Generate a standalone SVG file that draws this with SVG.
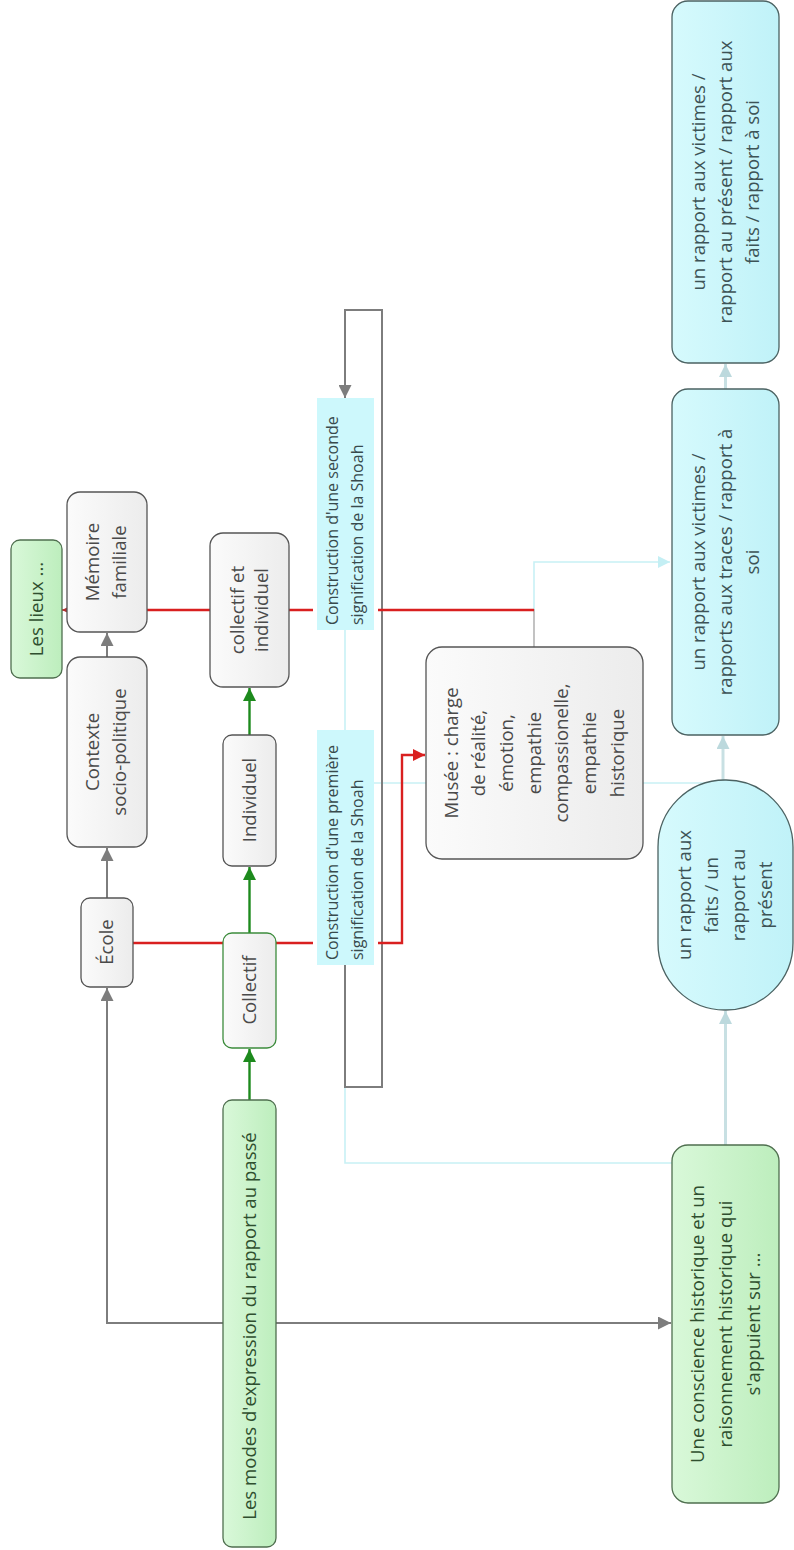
<svg xmlns="http://www.w3.org/2000/svg" width="794" height="1550" viewBox="0 0 794 1550">
<defs>
<linearGradient id="gGray" x1="0" y1="0" x2="1" y2="0"><stop offset="0" stop-color="#fbfbfb"/><stop offset="1" stop-color="#ececec"/></linearGradient>
<linearGradient id="gGreen" x1="0" y1="0" x2="1" y2="0"><stop offset="0" stop-color="#d9f8d9"/><stop offset="1" stop-color="#bdeebd"/></linearGradient>
<linearGradient id="gCyan" x1="0" y1="0" x2="1" y2="0"><stop offset="0" stop-color="#d6fafd"/><stop offset="1" stop-color="#c0f2f8"/></linearGradient>
<marker id="aGray" viewBox="0 0 10 10" refX="10" refY="5" markerUnits="userSpaceOnUse" markerWidth="13" markerHeight="13" orient="auto"><path d="M0,0 L10,5 L0,10 z" fill="#7d7d7d"/></marker>
<marker id="aGreen" viewBox="0 0 10 10" refX="10" refY="5" markerUnits="userSpaceOnUse" markerWidth="13" markerHeight="13" orient="auto"><path d="M0,0 L10,5 L0,10 z" fill="#1d8a1d"/></marker>
<marker id="aRed" viewBox="0 0 10 10" refX="10" refY="5" markerUnits="userSpaceOnUse" markerWidth="12" markerHeight="12" orient="auto"><path d="M0,0 L10,5 L0,10 z" fill="#d92020"/></marker>
<marker id="aRedS" viewBox="0 0 10 10" refX="10" refY="5" markerUnits="userSpaceOnUse" markerWidth="7" markerHeight="7" orient="auto"><path d="M0,0 L10,5 L0,10 z" fill="#b03030"/></marker>
<marker id="aLight" viewBox="0 0 10 10" refX="10" refY="5" markerUnits="userSpaceOnUse" markerWidth="13" markerHeight="13" orient="auto"><path d="M0,0 L10,5 L0,10 z" fill="#bcd9dd"/></marker>
<marker id="aCyan" viewBox="0 0 10 10" refX="10" refY="5" markerUnits="userSpaceOnUse" markerWidth="12" markerHeight="12" orient="auto"><path d="M0,0 L10,5 L0,10 z" fill="#c4eff4"/></marker>
</defs>
<style>
.gray{fill:url(#gGray);stroke:#555;stroke-width:1.3}
.green{fill:url(#gGreen);stroke:#4f6f4f;stroke-width:1.3}
.cyan{fill:url(#gCyan);stroke:#4b6262;stroke-width:1.3}
.coll{fill:url(#gGray);stroke:#3c8c3c;stroke-width:1.3}
.lbl{fill:#cdf8fc;stroke:none}
text{font-family:"Open Sans","Noto Sans","DejaVu Sans",sans-serif;font-size:18.6px;fill:#4a4a4a}
.tg{fill:#2f4f2f}
.tc{fill:#3d5356}
.tl{font-size:16px;fill:#384a4c}
.cgray{fill:none;stroke:#7d7d7d;stroke-width:2}
.cgreen{fill:none;stroke:#1d8a1d;stroke-width:2.4}
.cred{fill:none;stroke:#d92020;stroke-width:2.4}
.ccyan{fill:none;stroke:#c8f1f5;stroke-width:1.6}
.clight{fill:none;stroke:#c8e0e3;stroke-width:3}
.cthin{fill:none;stroke:#9a9a9a;stroke-width:1.2}
</style>
<rect width="794" height="1550" fill="#fff"/>
<g id="connectors">
<path class="ccyan" d="M672,1163 H345 V965"/>
<path class="ccyan" d="M345,730 V630"/>
<path class="ccyan" d="M374,783 H723"/>
<path class="ccyan" d="M534,609 V562 H670" marker-end="url(#aCyan)"/>
<path class="cthin" d="M534,647 V609"/>
<path class="cgray" d="M223,1323 H107 V988" marker-end="url(#aGray)"/>
<path class="cgray" d="M276,1323 H671" marker-end="url(#aGray)"/>
<path class="cgray" d="M107,898 V848" marker-end="url(#aGray)"/>
<path class="cgray" d="M107,657 V633" marker-end="url(#aGray)"/>
<path class="cgray" d="M345,965 V1087 H382 V310 H345 V398" marker-end="url(#aGray)"/>
<path class="cgreen" d="M249.5,1100 V1049" marker-end="url(#aGreen)"/>
<path class="cgreen" d="M249.5,933 V867" marker-end="url(#aGreen)"/>
<path class="cgreen" d="M249.5,735 V688" marker-end="url(#aGreen)"/>
<path class="cred" d="M133,943 H313"/>
<path class="cred" d="M378,943 H402 V755 H425" marker-end="url(#aRed)"/>
<path class="cred" d="M313,610 H67"/>
<path class="cred" d="M70,610 H62" marker-end="url(#aRedS)" style="stroke-width:1.5"/>
<path class="cred" d="M378,610 H534"/>
<path class="clight" d="M725.5,1145 V1011" marker-end="url(#aLight)"/>
<path class="clight" d="M723,780 V736" marker-end="url(#aLight)"/>
<path class="clight" d="M725.5,389 V364" marker-end="url(#aLight)"/>
</g>
<g id="n-lieux"><rect class="green" x="11" y="540" width="51" height="138" rx="9"/>
<text class="tg" text-anchor="middle" transform="translate(37,609) rotate(-90)"><tspan x="0" y="6">Les lieux ...</tspan></text></g>
<g id="n-memoire"><rect class="gray" x="67" y="492" width="80" height="140" rx="13"/>
<text text-anchor="middle" transform="translate(107,562) rotate(-90)"><tspan x="0" y="-8">Mémoire</tspan><tspan x="0" y="19">familiale</tspan></text></g>
<g id="n-contexte"><rect class="gray" x="67" y="657" width="80" height="190" rx="13"/>
<text text-anchor="middle" transform="translate(107,752) rotate(-90)"><tspan x="0" y="-8">Contexte</tspan><tspan x="0" y="19">socio-politique</tspan></text></g>
<g id="n-ecole"><rect class="gray" x="81" y="898" width="52" height="89" rx="9"/>
<text text-anchor="middle" transform="translate(107,942) rotate(-90)"><tspan x="0" y="6">École</tspan></text></g>
<g id="n-colind"><rect class="gray" x="210" y="533" width="79" height="154" rx="13"/>
<text text-anchor="middle" transform="translate(249.5,610) rotate(-90)"><tspan x="0" y="-6">collectif et</tspan><tspan x="0" y="18">individuel</tspan></text></g>
<g id="n-individuel"><rect class="gray" x="223" y="735" width="53" height="131" rx="9"/>
<text text-anchor="middle" transform="translate(249.5,800) rotate(-90)"><tspan x="0" y="6">Individuel</tspan></text></g>
<g id="n-collectif"><rect class="coll" x="223" y="933" width="53" height="115" rx="9"/>
<text text-anchor="middle" transform="translate(249.5,990) rotate(-90)"><tspan x="0" y="6">Collectif</tspan></text></g>
<g id="n-modes"><rect class="green" x="223" y="1100" width="53" height="447" rx="9"/>
<text class="tg" text-anchor="middle" transform="translate(249.5,1326) rotate(-90)"><tspan x="0" y="6">Les modes d'expression du rapport au passé</tspan></text></g>
<g id="n-seconde"><rect class="lbl" x="317" y="398" width="57" height="232"/>
<text class="tl" transform="translate(345.5,625) rotate(-90)"><tspan x="0" y="-7.5">Construction d'une seconde</tspan><tspan x="0" y="17.5">signification de la Shoah</tspan></text></g>
<g id="n-premiere"><rect class="lbl" x="317" y="730" width="57" height="235"/>
<text class="tl" transform="translate(345.5,960) rotate(-90)"><tspan x="0" y="-7.5">Construction d'une première</tspan><tspan x="0" y="17.5">signification de la Shoah</tspan></text></g>
<g id="n-musee"><rect class="gray" x="426" y="647" width="217" height="212" rx="16"/>
<text text-anchor="middle" transform="translate(534.5,753) rotate(-90)"><tspan x="0" y="-77">Musée : charge</tspan><tspan x="0" y="-49.3">de réalité,</tspan><tspan x="0" y="-21.7">émotion,</tspan><tspan x="0" y="6">empathie</tspan><tspan x="0" y="33.7">compassionelle,</tspan><tspan x="0" y="61.3">empathie</tspan><tspan x="0" y="89">historique</tspan></text></g>
<g id="n-victimes-present"><rect class="cyan" x="672" y="1" width="107" height="362" rx="16"/>
<text class="tc" text-anchor="middle" transform="translate(725.5,182) rotate(-90)"><tspan x="0" y="-21">un rapport aux victimes /</tspan><tspan x="0" y="6">rapport au présent / rapport aux</tspan><tspan x="0" y="33">faits / rapport à soi</tspan></text></g>
<g id="n-victimes-traces"><rect class="cyan" x="672" y="389" width="107" height="346" rx="16"/>
<text class="tc" text-anchor="middle" transform="translate(725.5,562) rotate(-90)"><tspan x="0" y="-21">un rapport aux victimes /</tspan><tspan x="0" y="6">rapports aux traces / rapport à</tspan><tspan x="0" y="33">soi</tspan></text></g>
<g id="n-faits"><rect class="cyan" x="658" y="780" width="135" height="230" rx="67"/>
<text class="tc" text-anchor="middle" transform="translate(725.5,895) rotate(-90)"><tspan x="0" y="-34.5">un rapport aux</tspan><tspan x="0" y="-7.5">faits / un</tspan><tspan x="0" y="19.5">rapport au</tspan><tspan x="0" y="46.5">présent</tspan></text></g>
<g id="n-conscience"><rect class="green" x="672" y="1145" width="107" height="358" rx="16"/>
<text class="tg" text-anchor="middle" transform="translate(725.5,1324) rotate(-90)"><tspan x="0" y="-22">Une conscience historique et un</tspan><tspan x="0" y="6">raisonnement historique qui</tspan><tspan x="0" y="34">s'appuient sur ...</tspan></text></g>
</svg>
